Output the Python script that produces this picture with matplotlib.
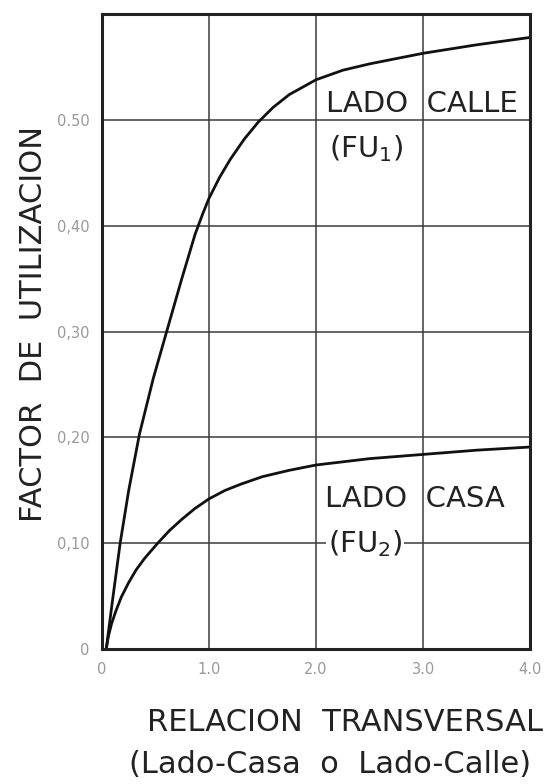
import matplotlib.pyplot as plt
from matplotlib.ticker import FixedLocator

# curves
fu1_x = [0.04, 0.10, 0.17, 0.25, 0.35, 0.48, 0.61, 0.74, 0.87, 0.94, 1.0, 1.1, 1.2, 1.33,
         1.46, 1.6, 1.75, 2.0, 2.25, 2.5, 3.0, 3.5, 4.0]
fu1_y = [0.0, 0.047, 0.10, 0.15, 0.203, 0.256, 0.302, 0.348, 0.392, 0.411, 0.426, 0.446, 0.463, 0.482,
         0.498, 0.512, 0.524, 0.538, 0.547, 0.553, 0.563, 0.571, 0.578]

fu2_x = [0.04, 0.06, 0.09, 0.13, 0.18, 0.25, 0.32, 0.40, 0.52, 0.63, 0.75, 0.87, 1.0, 1.15, 1.3,
         1.5, 1.75, 2.0, 2.25, 2.5, 3.0, 3.5, 4.0]
fu2_y = [0.0, 0.012, 0.024, 0.036, 0.049, 0.063, 0.075, 0.086, 0.100, 0.112, 0.123, 0.133, 0.142,
         0.150, 0.156, 0.163, 0.169, 0.174, 0.177, 0.180, 0.184, 0.188, 0.191]

x_ticks = [0, 1.0, 2.0, 3.0, 4.0]
x_labels = ['0', '1.0', '2.0', '3.0', '4.0']
y_ticks = [0, 0.1, 0.2, 0.3, 0.4, 0.5]
y_labels = ['0', '0,10', '0,20', '0,30', '0,40', '0.50']

fig = plt.figure(figsize=(5.57, 7.84), dpi=100)
ax = fig.add_axes([0.183, 0.172, 0.769, 0.810])

ax.set_xlim(0, 4.0)
ax.set_ylim(0, 0.6)
ax.grid(True, color='#3a3a3a', lw=1.1)
ax.set_axisbelow(True)

ax.plot(fu1_x, fu1_y, color='#111111', lw=2)
ax.plot(fu2_x, fu2_y, color='#111111', lw=2)

for s in ax.spines.values():
    s.set_linewidth(2.2)
    s.set_color('#222222')

ax.set_xticks(x_ticks)
ax.set_xticklabels(x_labels, color='#999999', fontsize=10.5)
ax.set_yticks(y_ticks)
ax.set_yticklabels(y_labels, color='#999999', fontsize=10.5)
ax.tick_params(axis='both', which='major', length=0, pad=9)
ax.xaxis.set_minor_locator(FixedLocator([0]))
ax.yaxis.set_minor_locator(FixedLocator([0]))
ax.tick_params(axis='both', which='minor', length=11, width=2, color='#222222')

txt = dict(fontsize=21, color='#222222')
ax.text(2.09, 0.515, 'LADO  CALLE', va='center', ha='left', **txt)
ax.text(2.12, 0.473, r'(FU$_1$)', va='center', ha='left', **txt)
ax.text(2.08, 0.142, 'LADO  CASA', va='center', ha='left', **txt)
ax.text(2.11, 0.100, r'(FU$_2$)', va='center', ha='left',
        bbox=dict(facecolor='white', edgecolor='none', pad=1), **txt)

fig.text(0.060, 0.587, 'FACTOR  DE  UTILIZACION', rotation=90, ha='center', va='center',
         fontsize=22, color='#222222')
fig.text(0.619, 0.079, 'RELACION  TRANSVERSAL', ha='center', va='center',
         fontsize=22, color='#222222')
fig.text(0.592, 0.025, '(Lado-Casa  o  Lado-Calle)', ha='center', va='center',
         fontsize=22, color='#222222')

fig.savefig('out.png', dpi=100)
